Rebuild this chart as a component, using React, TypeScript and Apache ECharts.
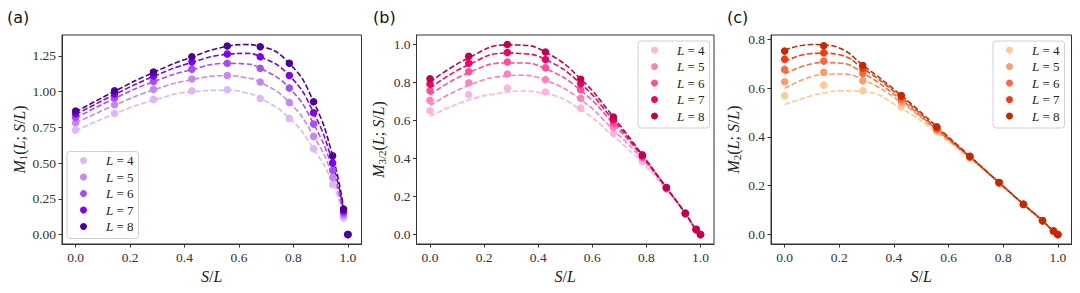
import React, { useEffect, useRef } from 'react';
import * as echarts from 'echarts';

// ---------- data ----------
const X_PTS = [0, 0.143, 0.286, 0.427, 0.557, 0.678, 0.785, 0.874, 0.944, 0.984, 1.0];
const L_VALUES = [4, 5, 6, 7, 8];

// Panel (a): M_1
const A_PTS_L4 = [0.731, 0.848, 0.946, 1.007, 1.014, 0.953, 0.813, 0.600, 0.35, 0.115, 0];
const A_PTS_L5 = [0.783, 0.909, 1.016, 1.089, 1.114, 1.068, 0.925, 0.687, 0.40, 0.135, 0];
const A_PTS_L6 = [0.820, 0.956, 1.072, 1.157, 1.199, 1.164, 1.026, 0.773, 0.45, 0.150, 0];
const A_PTS_L7 = [0.846, 0.984, 1.110, 1.208, 1.264, 1.245, 1.114, 0.853, 0.50, 0.165, 0];
const A_PTS_L8 = [0.864, 1.007, 1.138, 1.245, 1.320, 1.315, 1.199, 0.930, 0.551, 0.178, 0];
const A_FIT_X = [0, 0.143, 0.286, 0.427, 0.557, 0.62, 0.678, 0.785, 0.874, 0.944, 0.985];
const A_FIT_L4 = [0.725, 0.845, 0.940, 1.000, 1.010, 0.995, 0.955, 0.815, 0.600, 0.360, 0.115];
const A_FIT_L5 = [0.780, 0.905, 1.012, 1.085, 1.112, 1.100, 1.068, 0.925, 0.690, 0.410, 0.130];
const A_FIT_L6 = [0.815, 0.953, 1.070, 1.155, 1.198, 1.195, 1.165, 1.025, 0.775, 0.455, 0.145];
const A_FIT_L7 = [0.840, 0.980, 1.107, 1.205, 1.262, 1.268, 1.245, 1.113, 0.853, 0.500, 0.160];
const A_FIT_L8 = [0.858, 1.003, 1.135, 1.243, 1.318, 1.330, 1.318, 1.198, 0.930, 0.550, 0.175];

// Panel (b): M_{3/2}
const B_PTS_L4 = [0.651, 0.736, 0.771, 0.750, 0.665, 0.533, 0.384, 0.238, 0.108, 0.024, 0];
const B_PTS_L5 = [0.706, 0.799, 0.845, 0.815, 0.717, 0.565, 0.401, 0.242, 0.110, 0.025, 0];
const B_PTS_L6 = [0.757, 0.857, 0.908, 0.877, 0.762, 0.586, 0.410, 0.245, 0.111, 0.026, 0];
const B_PTS_L7 = [0.792, 0.901, 0.958, 0.921, 0.794, 0.604, 0.415, 0.246, 0.111, 0.026, 0];
const B_PTS_L8 = [0.820, 0.938, 1.000, 0.960, 0.817, 0.618, 0.419, 0.247, 0.112, 0.027, 0];
const B_FIT_X = [0, 0.143, 0.286, 0.33, 0.427, 0.557, 0.678, 0.785, 0.874, 0.944, 0.983, 1.0];
const B_FIT_L4 = [0.622, 0.708, 0.750, 0.755, 0.742, 0.657, 0.518, 0.377, 0.238, 0.111, 0.026, 0];
const B_FIT_L5 = [0.678, 0.785, 0.835, 0.838, 0.812, 0.710, 0.551, 0.396, 0.243, 0.111, 0.026, 0];
const B_FIT_L6 = [0.735, 0.852, 0.903, 0.903, 0.873, 0.759, 0.583, 0.408, 0.245, 0.111, 0.026, 0];
const B_FIT_L7 = [0.770, 0.894, 0.955, 0.953, 0.921, 0.794, 0.601, 0.414, 0.246, 0.111, 0.026, 0];
const B_FIT_L8 = [0.801, 0.930, 0.998, 0.997, 0.960, 0.819, 0.618, 0.419, 0.247, 0.111, 0.026, 0];

// Panel (c): M_2
const C_PTS_L4 = [0.569, 0.613, 0.589, 0.524, 0.421, 0.313, 0.209, 0.122, 0.055, 0.013, 0];
const C_PTS_L5 = [0.626, 0.665, 0.630, 0.544, 0.428, 0.316, 0.211, 0.123, 0.056, 0.014, 0];
const C_PTS_L6 = [0.677, 0.711, 0.660, 0.555, 0.433, 0.318, 0.212, 0.124, 0.056, 0.014, 0];
const C_PTS_L7 = [0.719, 0.745, 0.681, 0.565, 0.438, 0.320, 0.213, 0.124, 0.056, 0.014, 0];
const C_PTS_L8 = [0.752, 0.774, 0.693, 0.570, 0.442, 0.321, 0.213, 0.124, 0.057, 0.014, 0];
const C_FIT_X = [0, 0.1, 0.143, 0.2, 0.286, 0.427, 0.557, 0.678, 0.785, 0.874, 0.944, 0.983, 1.0];
const C_FIT_L4 = [0.533, 0.570, 0.580, 0.589, 0.586, 0.517, 0.417, 0.313, 0.212, 0.124, 0.056, 0.014, 0];
const C_FIT_L5 = [0.599, 0.648, 0.655, 0.658, 0.636, 0.541, 0.425, 0.315, 0.212, 0.124, 0.056, 0.014, 0];
const C_FIT_L6 = [0.658, 0.700, 0.705, 0.703, 0.663, 0.551, 0.430, 0.317, 0.212, 0.124, 0.056, 0.014, 0];
const C_FIT_L7 = [0.708, 0.742, 0.743, 0.737, 0.682, 0.562, 0.435, 0.319, 0.213, 0.124, 0.056, 0.014, 0];
const C_FIT_L8 = [0.756, 0.779, 0.777, 0.765, 0.695, 0.570, 0.442, 0.321, 0.213, 0.124, 0.057, 0.014, 0];

const X_TICKS = [0, 0.2, 0.4, 0.6, 0.8, 1.0];
const A_Y_TICKS = [0, 0.25, 0.5, 0.75, 1.0, 1.25];
const B_Y_TICKS = [0, 0.2, 0.4, 0.6, 0.8, 1.0];
const C_Y_TICKS = [0, 0.2, 0.4, 0.6, 0.8];

const A_COLORS = ['#deb6fa', '#c586f6', '#a64ef6', '#7f00f5', '#4d0099'];
const B_COLORS = ['#ffb3de', '#ff80bf', '#ff4c9b', '#f2006a', '#c2004e'];
const C_COLORS = ['#fdcb95', '#fc9c6b', '#fb6a3e', '#f73a0d', '#c42a00'];

// ---------- helpers ----------
const SERIF = 'Liberation Serif';
const AX = '#333';
const zip = (xs: number[], ys: number[]) => xs.map((x, i) => [x, ys[i]]);

const mathRich = {
  i: { fontFamily: SERIF, fontStyle: 'italic', fontSize: 16, color: '#222' },
  u: { fontFamily: SERIF, fontSize: 16, color: '#222' },
  s: { fontFamily: SERIF, fontStyle: 'normal', fontSize: 11, color: '#222', padding: [7, 0, 0, 0] },
};

export default function App() {
  const ref = useRef<HTMLDivElement>(null);
  useEffect(() => {
    document.body.style.margin = '0';
    if (!ref.current) return;
    const chart = echarts.init(ref.current, undefined, { renderer: 'svg' });

    const panels = [
      {
        key: 'a', grid: { left: 62, top: 35, width: 299.5, height: 209 },
        yMin: -0.0665, yMax: 1.397, yTicks: A_Y_TICKS, fmt: (v: number) => v.toFixed(2),
        pts: [A_PTS_L4, A_PTS_L5, A_PTS_L6, A_PTS_L7, A_PTS_L8],
        fitX: A_FIT_X, fits: [A_FIT_L4, A_FIT_L5, A_FIT_L6, A_FIT_L7, A_FIT_L8],
        colors: A_COLORS, sub: '1', legend: { left: 67, top: 151.5 },
        nameGap: 34,
      },
      {
        key: 'b', grid: { left: 416.5, top: 35, width: 297.5, height: 209 },
        yMin: -0.05, yMax: 1.05, yTicks: B_Y_TICKS, fmt: (v: number) => v.toFixed(1),
        pts: [B_PTS_L4, B_PTS_L5, B_PTS_L6, B_PTS_L7, B_PTS_L8],
        fitX: B_FIT_X, fits: [B_FIT_L4, B_FIT_L5, B_FIT_L6, B_FIT_L7, B_FIT_L8],
        colors: B_COLORS, sub: '3/2', legend: { left: 638, top: 41 },
        nameGap: 29,
      },
      {
        key: 'c', grid: { left: 771, top: 35, width: 300.5, height: 209 },
        yMin: -0.039, yMax: 0.818, yTicks: C_Y_TICKS, fmt: (v: number) => v.toFixed(1),
        pts: [C_PTS_L4, C_PTS_L5, C_PTS_L6, C_PTS_L7, C_PTS_L8],
        fitX: C_FIT_X, fits: [C_FIT_L4, C_FIT_L5, C_FIT_L6, C_FIT_L7, C_FIT_L8],
        colors: C_COLORS, sub: '2', legend: { left: 993, top: 41 },
        nameGap: 29,
      },
    ];

    const grids: any[] = [];
    const xAxes: any[] = [];
    const yAxes: any[] = [];
    const legends: any[] = [];
    const series: any[] = [];

    const tickLabel = {
      fontFamily: SERIF, fontSize: 13.5, color: '#333', fontWeight: 'normal', fontStyle: 'normal',
    };

    panels.forEach((p, gi) => {
      grids.push({ ...p.grid, show: true, borderColor: AX, borderWidth: 1, backgroundColor: 'transparent' });
      xAxes.push({
        type: 'value', gridIndex: gi, min: -0.05, max: 1.05,
        name: '{i|S}{u|/}{i|L}', nameLocation: 'middle', nameGap: 22,
        nameTextStyle: { fontFamily: SERIF, rich: mathRich },
        axisLine: { show: true, onZero: false, lineStyle: { color: AX, width: 1 } },
        axisTick: { show: true, customValues: X_TICKS, length: 3.5, lineStyle: { color: AX } },
        axisLabel: {
          customValues: X_TICKS, margin: 6, ...tickLabel,
          formatter: (v: number) => v.toFixed(1),
        },
        splitLine: { show: false },
      });
      yAxes.push({
        type: 'value', gridIndex: gi, min: p.yMin, max: p.yMax,
        name: `{i|M}{s|${p.sub}}{u|(}{i|L}{u|; }{i|S}{u|/}{i|L}{u|)}`,
        nameLocation: 'middle', nameGap: p.nameGap, nameRotate: 90,
        nameTextStyle: { fontFamily: SERIF, rich: mathRich },
        axisLine: { show: true, onZero: false, lineStyle: { color: AX, width: 1 } },
        axisTick: { show: true, customValues: p.yTicks, length: 3.5, lineStyle: { color: AX } },
        axisLabel: {
          customValues: p.yTicks, margin: 6, ...tickLabel,
          formatter: (v: number) => p.fmt(v),
        },
        splitLine: { show: false },
      });
      legends.push({
        left: p.legend.left, top: p.legend.top, orient: 'vertical',
        data: L_VALUES.map((l) => `${p.key}${l}`),
        icon: 'circle', itemWidth: 7, itemHeight: 7, itemGap: 2.5,
        padding: [2, 5, 5, 13], borderColor: '#d0d0d0', borderWidth: 1, borderRadius: 3,
        backgroundColor: 'rgba(255,255,255,0.85)',
        formatter: (name: string) => `{i|L}{u| = ${name.slice(1)}}`,
        textStyle: {
          fontFamily: SERIF,
          lineHeight: 14,
          rich: {
            i: { fontFamily: SERIF, fontStyle: 'italic', fontSize: 13, color: '#222', padding: [0, 0, 0, 14], lineHeight: 14 },
            u: { fontFamily: SERIF, fontSize: 13, color: '#222', lineHeight: 14 },
          },
        },
        selectedMode: false,
      });
      L_VALUES.forEach((l, li) => {
        series.push({
          type: 'line', xAxisIndex: gi, yAxisIndex: gi, name: `${p.key}fit${l}`,
          data: zip(p.fitX, p.fits[li]), showSymbol: false, symbol: 'none',
          smooth: 0.5,
          lineStyle: { color: p.colors[li], width: 1.6, type: [5.5, 2.4] },
          z: 2 + li * 0.01, silent: true,
        });
        series.push({
          type: 'scatter', xAxisIndex: gi, yAxisIndex: gi, name: `${p.key}${l}`,
          data: zip(X_PTS, p.pts[li]), symbol: 'circle', symbolSize: 7.5,
          itemStyle: { color: p.colors[li], opacity: 1 },
          z: 3 + li * 0.01,
        });
      });
    });

    chart.setOption({
      animation: false,
      backgroundColor: '#fff',
      textStyle: { fontFamily: SERIF },
      grid: grids,
      xAxis: xAxes,
      yAxis: yAxes,
      legend: legends,
      series,
      graphic: [
        { type: 'text', left: 7, top: 9, style: { text: '(a)', fontFamily: 'DejaVu Sans', fontSize: 16, fill: '#111' } },
        { type: 'text', left: 373, top: 9, style: { text: '(b)', fontFamily: 'DejaVu Sans', fontSize: 16, fill: '#111' } },
        { type: 'text', left: 727, top: 9, style: { text: '(c)', fontFamily: 'DejaVu Sans', fontSize: 16, fill: '#111' } },
      ],
    });
    return () => chart.dispose();
  }, []);
  return <div ref={ref} style={{ width: 1080, height: 293 }} />;
}
